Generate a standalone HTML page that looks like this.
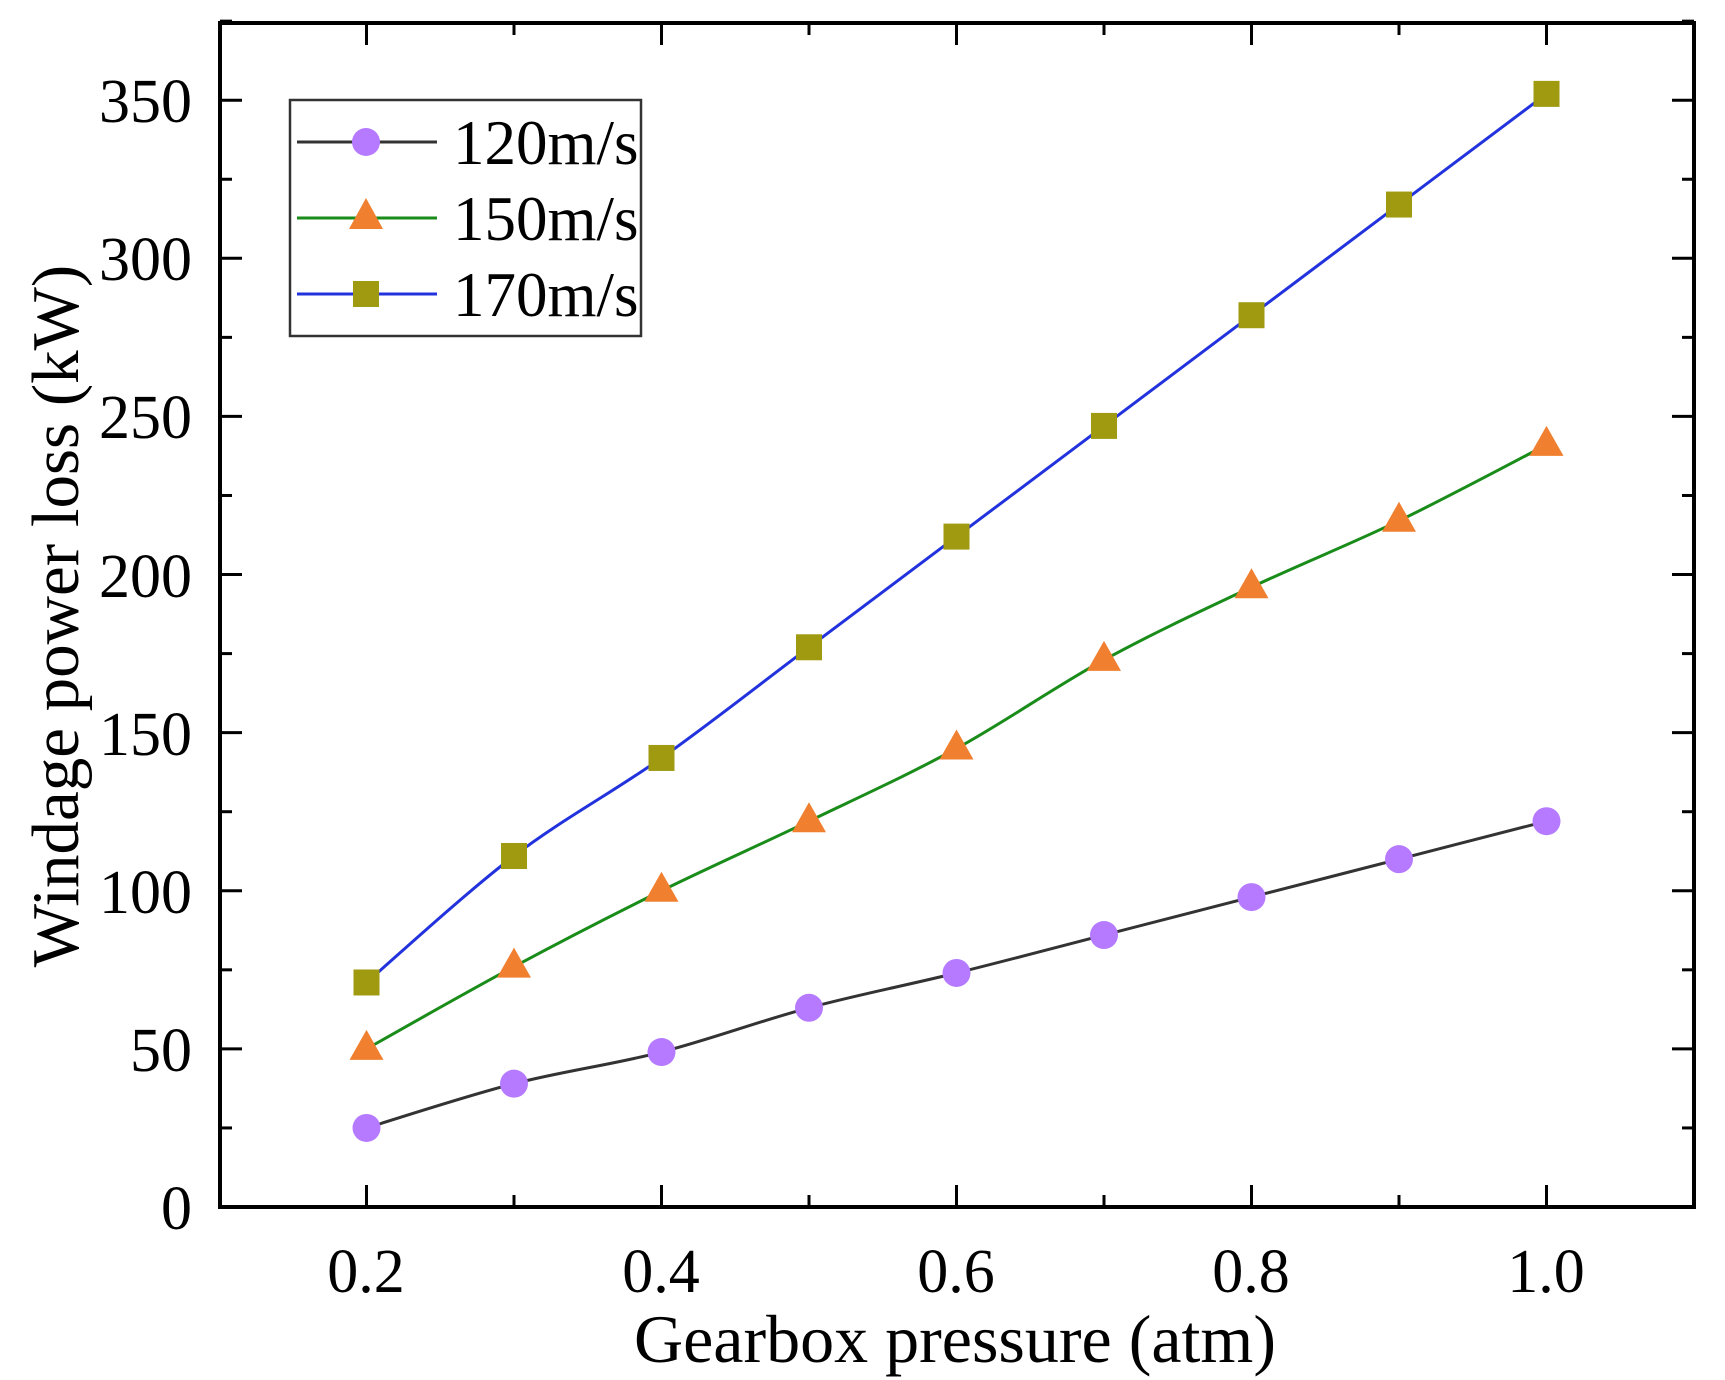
<!DOCTYPE html>
<html><head><meta charset="utf-8"><style>
html,body{margin:0;padding:0;background:#fff;}
svg{display:block;font-family:"Liberation Serif",serif;}
</style></head><body>
<svg id="s" width="1725" height="1380" viewBox="0 0 1725 1380" xmlns="http://www.w3.org/2000/svg">
<rect width="1725" height="1380" fill="#fff"/>
<g id="ticks" stroke="#000" stroke-width="3"></g>
<g id="series"></g>
<rect x="220" y="23" width="1474" height="1184" fill="none" stroke="#000" stroke-width="4"/>
<g font-size="62" fill="#000" text-anchor="end">
<text x="192" y="1229">0</text>
<text x="192" y="1071">50</text>
<text x="192" y="913">100</text>
<text x="192" y="755">150</text>
<text x="192" y="597">200</text>
<text x="192" y="438">250</text>
<text x="192" y="280">300</text>
<text x="192" y="122">350</text>
</g>
<g font-size="62" fill="#000" text-anchor="middle">
<text x="366" y="1292">0.2</text>
<text x="661" y="1292">0.4</text>
<text x="956" y="1292">0.6</text>
<text x="1251" y="1292">0.8</text>
<text x="1546" y="1292">1.0</text>
<text x="955" y="1362" font-size="68">Gearbox pressure (atm)</text>
<text transform="translate(78,616) rotate(-90)" font-size="67">Windage power loss (kW)</text>
</g>
<rect x="290" y="100" width="351" height="236" fill="#fff" stroke="#333" stroke-width="2.5"/>
<line x1="297" y1="142" x2="437" y2="142" stroke="#333" stroke-width="3"/>
<circle cx="366" cy="142" r="14" fill="#b57aff"/>
<line x1="297" y1="218" x2="437" y2="218" stroke="#1a8c1a" stroke-width="3"/>
<polygon points="366,198 383,229 349,229" fill="#f08030"/>
<line x1="297" y1="294" x2="437" y2="294" stroke="#2233dd" stroke-width="3"/>
<rect x="353" y="281" width="26" height="26" fill="#a09a10"/>
<g font-size="63" fill="#000">
<text x="453" y="164">120m/s</text>
<text x="453" y="240">150m/s</text>
<text x="453" y="316">170m/s</text>
</g>
</svg>
<script>
const NS="http://www.w3.org/2000/svg";
const X=v=>219+(v-0.1)*1475, Y=v=>1207-v*3.1623;
const tk=document.getElementById("ticks");
function L(x1,y1,x2,y2){const l=document.createElementNS(NS,"line");l.setAttribute("x1",x1);l.setAttribute("y1",y1);l.setAttribute("x2",x2);l.setAttribute("y2",y2);tk.appendChild(l);}
for(let i=1;i<=9;i++){const x=X(0.1*i+0.1);const len=(i%2==1)?22:12;L(x,1207,x,1207-len);L(x,23,x,23+len);}
for(let v=25;v<=375;v+=25){const y=Y(v);const len=(v%50==0)?22:12;L(220,y,220+len,y);L(1694,y,1694-len,y);}
const xs=[0.2,0.3,0.4,0.5,0.6,0.7,0.8,0.9,1.0];
const data=[
 {y:[25,39,49,63,74,86,98,110,122],c:"#333",m:"c",mc:"#b57aff"},
 {y:[50,76,100,122,145,173,196,217,241],c:"#1a8c1a",m:"t",mc:"#f08030"},
 {y:[71,111,142,177,212,247,282,317,352],c:"#2233dd",m:"s",mc:"#a09a10"}];
const g=document.getElementById("series");
data.forEach(d=>{
 const P=xs.map((x,i)=>[X(x),Y(d.y[i])]);
 let s="M"+P[0][0]+","+P[0][1];
 for(let i=0;i<P.length-1;i++){const p0=P[Math.max(0,i-1)],p1=P[i],p2=P[i+1],p3=P[Math.min(P.length-1,i+2)];
  const c1=[p1[0]+(p2[0]-p0[0])/6,p1[1]+(p2[1]-p0[1])/6],c2=[p2[0]-(p3[0]-p1[0])/6,p2[1]-(p3[1]-p1[1])/6];
  s+=` C${c1[0]},${c1[1]} ${c2[0]},${c2[1]} ${p2[0]},${p2[1]}`;}
 const p=document.createElementNS(NS,"path");
 p.setAttribute("d",s);p.setAttribute("fill","none");p.setAttribute("stroke",d.c);p.setAttribute("stroke-width","3");g.appendChild(p);
 P.forEach(([cx,cy])=>{let e;
  if(d.m=="c"){e=document.createElementNS(NS,"circle");e.setAttribute("cx",cx);e.setAttribute("cy",cy);e.setAttribute("r",14);}
  else if(d.m=="t"){e=document.createElementNS(NS,"polygon");e.setAttribute("points",`${cx},${cy-19} ${cx+17},${cy+11} ${cx-17},${cy+11}`);}
  else{e=document.createElementNS(NS,"rect");e.setAttribute("x",cx-13);e.setAttribute("y",cy-13);e.setAttribute("width",26);e.setAttribute("height",26);}
  e.setAttribute("fill",d.mc);g.appendChild(e);});
});
</script>
</body></html>
